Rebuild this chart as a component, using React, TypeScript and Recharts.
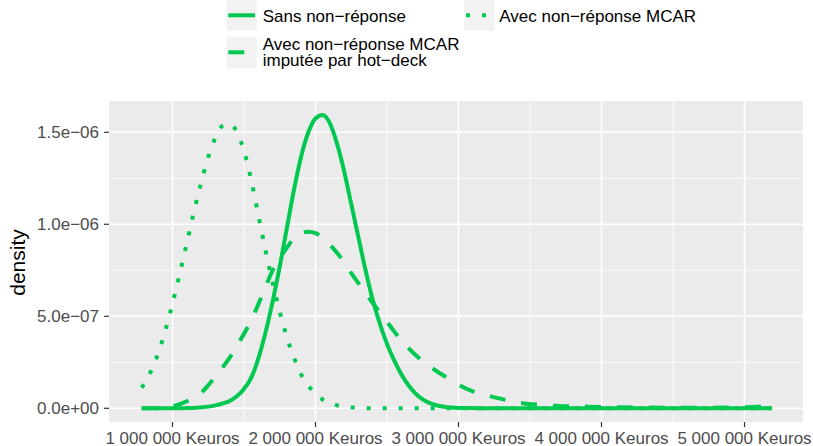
import { LineChart, Line, XAxis, YAxis, CartesianGrid, Legend, Label } from "recharts";

// revenu (euros)
const xValues = [
  785000, 850000, 900000, 950000, 1000000, 1050000, 1100000, 1150000, 1200000, 1250000,
  1300000, 1350000, 1400000, 1450000, 1500000, 1550000, 1600000, 1650000, 1700000, 1750000,
  1800000, 1850000, 1900000, 1950000, 2000000, 2050000, 2100000, 2150000, 2200000, 2250000,
  2300000, 2350000, 2400000, 2450000, 2500000, 2550000, 2600000, 2650000, 2700000, 2750000,
  2800000, 2850000, 2900000, 2950000, 3000000, 3100000, 3200000, 3300000, 3400000, 3500000,
  3700000, 3900000, 4100000, 4300000, 4500000, 4700000, 4900000, 5100000, 5192000,
];

// densities, in units of 1e-06
const sansNonReponse = [
  0, 0, 0, 0, 0, 0, 0.001, 0.002, 0.005, 0.009,
  0.016, 0.026, 0.04, 0.065, 0.105, 0.165, 0.27, 0.41, 0.58, 0.77,
  0.98, 1.19, 1.37, 1.5, 1.575, 1.594, 1.55, 1.44, 1.29, 1.11,
  0.93, 0.75, 0.59, 0.46, 0.35, 0.26, 0.185, 0.125, 0.08, 0.048,
  0.028, 0.015, 0.008, 0.004, 0.002, 0.001, 0, 0, 0, 0,
  0, 0, 0, 0, 0, 0, 0, 0, 0,
];

const imputeeHotDeck = [
  0, 0, 0.001, 0.004, 0.011, 0.022, 0.038, 0.058, 0.083, 0.125,
  0.172, 0.222, 0.275, 0.34, 0.405, 0.478, 0.565, 0.658, 0.75, 0.815,
  0.873, 0.925, 0.952, 0.96, 0.952, 0.928, 0.89, 0.845, 0.794, 0.735,
  0.68, 0.625, 0.572, 0.522, 0.47, 0.418, 0.37, 0.327, 0.29, 0.256,
  0.228, 0.2, 0.176, 0.152, 0.128, 0.092, 0.07, 0.051, 0.033, 0.023,
  0.013, 0.009, 0.006, 0.004, 0.003, 0.003, 0.004, 0.008, 0.004,
];

const avecMcar = [
  0.112, 0.203, 0.299, 0.423, 0.568, 0.729, 0.898, 1.069, 1.225, 1.365,
  1.47, 1.535, 1.545, 1.502, 1.399, 1.242, 1.051, 0.86, 0.683, 0.525,
  0.386, 0.274, 0.183, 0.122, 0.08, 0.048, 0.031, 0.016, 0.01, 0.005,
  0.003, 0.001, 0, 0, 0, 0, 0, 0, 0, 0,
  0, 0, 0, 0, 0, 0, 0, 0, 0, 0,
  0, 0, 0, 0, 0, 0, 0, 0, 0,
];

const xTicks = [1000000, 2000000, 3000000, 4000000, 5000000];
const xTickLabels = ["1 000 000 Keuros", "2 000 000 Keuros", "3 000 000 Keuros", "4 000 000 Keuros", "5 000 000 Keuros"];
const xMinor = [1500000, 2500000, 3500000, 4500000];
const yTicks = [0, 0.5, 1, 1.5];
const yTickLabels = ["0.0e+00", "5.0e\u221207", "1.0e\u221206", "1.5e\u221206"];
const yMinor = [0.25, 0.75, 1.25];

const data = xValues.map((x, i) => ({
  x,
  sans: sansNonReponse[i],
  imputee: imputeeHotDeck[i],
  mcar: avecMcar[i],
}));

const GREEN = "#00C850";
const FONT = "'Liberation Sans', Arial, Helvetica, sans-serif";

function renderLegend() {
  return (
    <svg width={813} height={80} style={{ display: "block" }} fontFamily={FONT}>
      <rect x={226.7} y={0} width={30} height={30.7} fill="#F2F2F2" />
      <line x1={228.3} x2={255} y1={15.3} y2={15.3} stroke={GREEN} strokeWidth={4} />
      <text x={262.7} y={22.2} fontSize={17} fill="#000">Sans non{"\u2212"}réponse</text>

      <rect x={226.7} y={36.7} width={30} height={31.6} fill="#F2F2F2" />
      <line x1={228.3} x2={255} y1={52.3} y2={52.3} stroke={GREEN} strokeWidth={4} strokeDasharray="16 16" />
      <text x={262.7} y={50.3} fontSize={17} fill="#000">Avec non{"\u2212"}réponse MCAR</text>
      <text x={262.7} y={66} fontSize={17} fill="#000">imputée par hot{"\u2212"}deck</text>

      <rect x={464.3} y={0} width={30} height={30.7} fill="#F2F2F2" />
      <line x1={466} x2={492.7} y1={15.3} y2={15.3} stroke={GREEN} strokeWidth={4} strokeDasharray="4 12" />
      <text x={499.3} y={22.2} fontSize={17} fill="#000">Avec non{"\u2212"}réponse MCAR</text>
    </svg>
  );
}

function renderYTitle(props: any) {
  const vb = props.viewBox || { x: 0, y: 101, width: 109, height: 321 };
  const cx = vb.x + 24.5;
  const cy = vb.y + vb.height / 2 + 1;
  return (
    <text x={cx} y={cy} transform={`rotate(-90 ${cx} ${cy})`} textAnchor="middle" fontSize={21} fill="#000" fontFamily={FONT}>
      density
    </text>
  );
}

export default function App() {
  return (
    <div style={{ position: "absolute", left: 0, top: 0, width: 813, height: 446, background: "#fff", fontFamily: FONT }}>
      <LineChart width={813} height={446} data={data} margin={{ top: 21, right: 10, bottom: 0, left: 0 }}>
        <CartesianGrid fill="#EBEBEB" fillOpacity={1} stroke="#FFFFFF" strokeWidth={0.8} horizontalValues={yMinor} verticalValues={xMinor} />
        <CartesianGrid stroke="#FFFFFF" strokeWidth={1.6} horizontalValues={yTicks} verticalValues={xTicks} />
        <XAxis
          dataKey="x"
          type="number"
          domain={[556000, 5409000]}
          ticks={xTicks}
          interval={0}
          allowDataOverflow
          tickFormatter={(v: number) => xTickLabels[xTicks.indexOf(v)] ?? ""}
          axisLine={false}
          tickLine={{ stroke: "#333333", strokeWidth: 1.2 }}
          tickSize={5}
          tickMargin={5}
          height={24}
          tick={{ fill: "#4D4D4D", fontSize: 17, fontFamily: FONT }}
        />
        <YAxis
          type="number"
          domain={[-0.0745, 1.67]}
          ticks={yTicks}
          interval={0}
          allowDataOverflow
          tickFormatter={(v: number) => yTickLabels[yTicks.indexOf(v)] ?? ""}
          axisLine={false}
          tickLine={{ stroke: "#333333", strokeWidth: 1.2 }}
          tickSize={5}
          tickMargin={5}
          width={109}
          tick={{ fill: "#4D4D4D", fontSize: 17, fontFamily: FONT }}
          label={<Label content={renderYTitle} />}
        />
        <Legend
          verticalAlign="top"
          align="left"
          content={renderLegend}
          wrapperStyle={{ top: 0, left: 0, width: 813, height: 80 }}
        />
        <Line
          type="monotone"
          dataKey="sans"
          stroke={GREEN}
          strokeWidth={4}
          strokeLinejoin="round"
          dot={false}
          activeDot={false}
          isAnimationActive={false}
        />
        <Line
          type="monotone"
          dataKey="imputee"
          stroke={GREEN}
          strokeWidth={4}
          strokeDasharray="16 16"
          strokeLinejoin="round"
          dot={false}
          activeDot={false}
          isAnimationActive={false}
        />
        <Line
          type="monotone"
          dataKey="mcar"
          stroke={GREEN}
          strokeWidth={4}
          strokeDasharray="4 12"
          strokeLinejoin="round"
          dot={false}
          activeDot={false}
          isAnimationActive={false}
        />
      </LineChart>
    </div>
  );
}
